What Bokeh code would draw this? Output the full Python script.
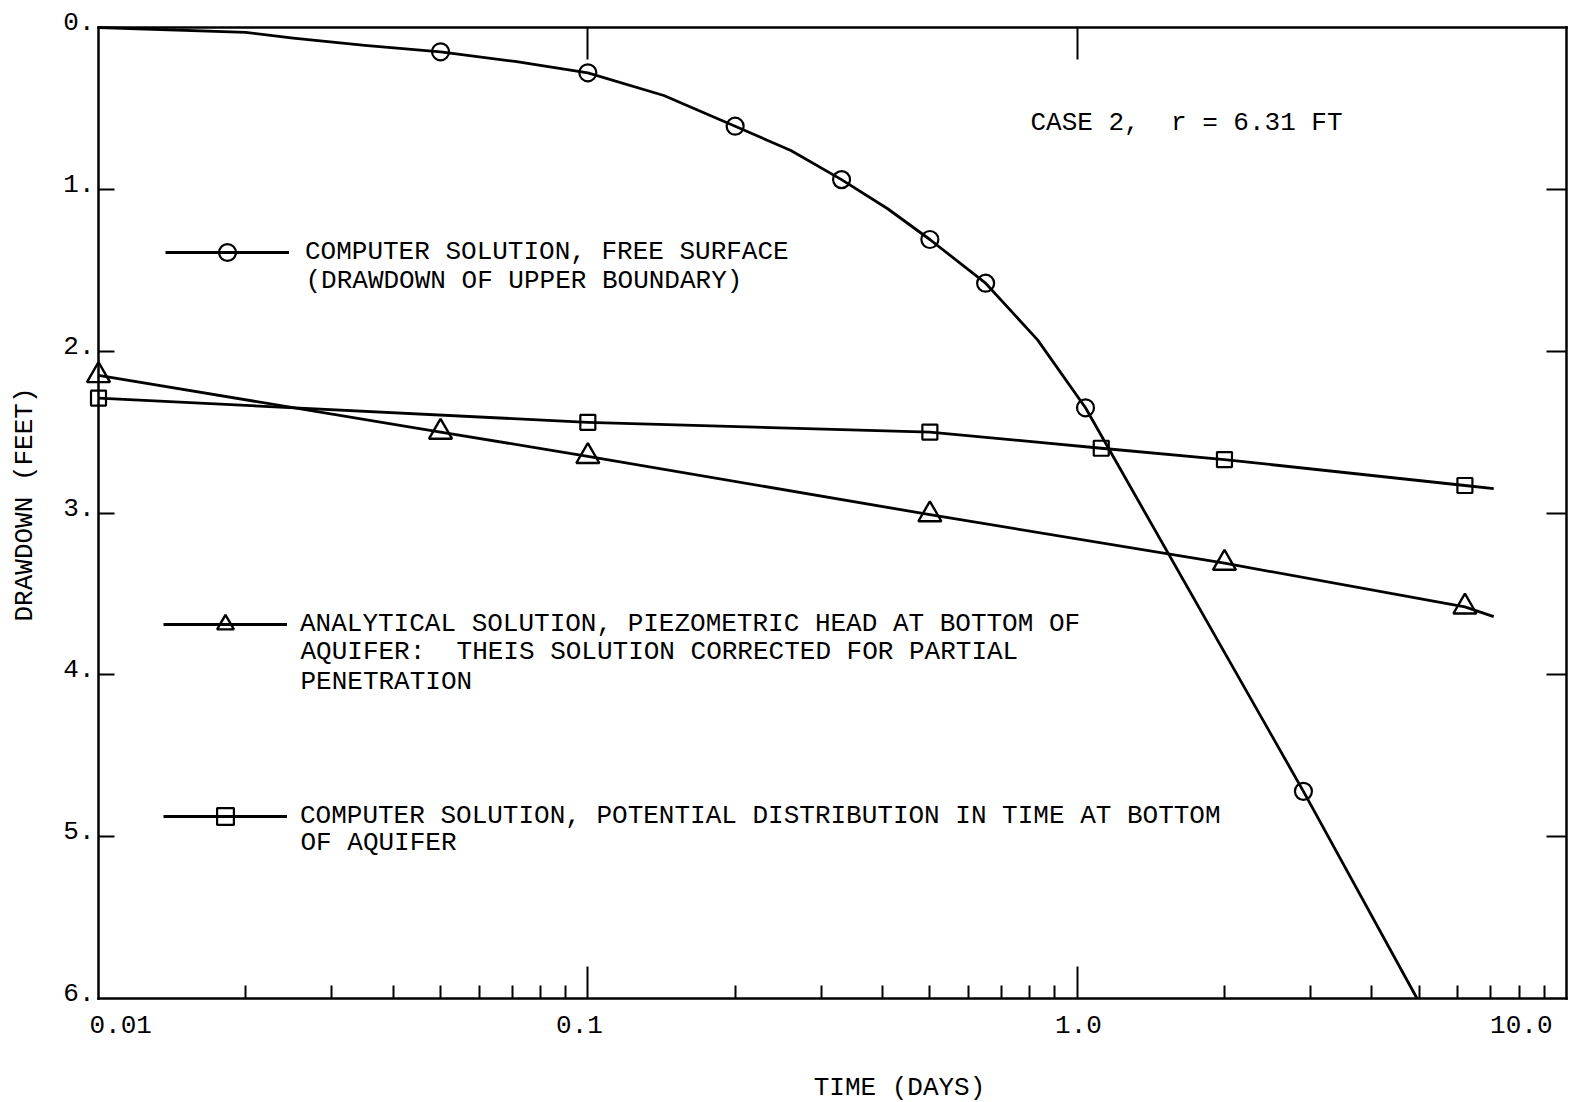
import math
from bokeh.plotting import figure
from bokeh.models import (FixedTicker, LogAxis, LinearAxis, Label, Legend, LegendItem)
from bokeh.embed import file_html
from bokeh.resources import INLINE

FONT = "Liberation Mono"
FS = "26px"
NB = "\u00a0"

# ---- data ----
# Computer solution, free surface (circles)
free_time = [0.05, 0.1, 0.2, 0.33, 0.5, 0.65, 1.04, 2.9]
free_drawdown = [0.15, 0.28, 0.61, 0.94, 1.31, 1.58, 2.35, 4.72]
# the drawn curve (includes its ends)
free_curve_time = [0.01, 0.02, 0.025, 0.035, 0.05, 0.071, 0.1, 0.143, 0.2, 0.26,
                   0.33, 0.41, 0.5, 0.65, 0.83, 1.04, 2.9, 4.95]
free_curve_drawdown = [0.0, 0.03, 0.065, 0.11, 0.15, 0.21, 0.28, 0.42, 0.61, 0.76,
                       0.94, 1.12, 1.31, 1.58, 1.93, 2.35, 4.72, 6.0]

# Analytical solution, piezometric head (triangles)
theis_time = [0.01, 0.05, 0.1, 0.5, 2.0, 6.2]
theis_drawdown = [2.15, 2.50, 2.65, 3.01, 3.31, 3.58]
theis_curve_time = [0.01, 0.05, 0.1, 0.5, 2.0, 6.2, 7.1]
theis_curve_drawdown = [2.15, 2.50, 2.65, 3.01, 3.31, 3.58, 3.64]

# Computer solution, potential at bottom (squares)
pot_time = [0.01, 0.1, 0.5, 1.12, 2.0, 6.2]
pot_drawdown = [2.29, 2.44, 2.50, 2.60, 2.67, 2.83]
pot_curve_time = [0.01, 0.1, 0.5, 1.12, 2.0, 6.2, 7.1]
pot_curve_drawdown = [2.29, 2.44, 2.50, 2.60, 2.67, 2.83, 2.85]

x_major = [0.01, 0.1, 1.0, 10.0]
x_major_labels = ["0.01", "0.1", "1.0", "10.0"]
x_minor = [d * m for d in [0.01, 0.1, 1.0] for m in range(2, 10)]
y_ticks = [0, 1, 2, 3, 4, 5, 6]
y_tick_labels = ["0.", "1.", "2.", "3.", "4.", "5.", "6."]

legend_first_lines = [
    "COMPUTER SOLUTION, FREE SURFACE",
    "ANALYTICAL SOLUTION, PIEZOMETRIC HEAD AT BOTTOM OF",
    "COMPUTER SOLUTION, POTENTIAL DISTRIBUTION IN TIME AT BOTTOM",
]
legend_more_lines = [
    ["(DRAWDOWN OF UPPER BOUNDARY)"],
    ["AQUIFER:" + NB + " THEIS SOLUTION CORRECTED FOR PARTIAL", "PENETRATION"],
    ["OF AQUIFER"],
]
case_text = "CASE 2," + NB + " r = 6.31 FT"
x_title = "TIME (DAYS)"
y_title = "DRAWDOWN (FEET)"

# ---- layout geometry (pixels on the canvas) ----
W, H = 1569, 1102
BOX_L, BOX_R, BOX_T, BOX_B = 98, 1566, 27, 998
X0, X1 = x_major[0], x_major[-1]
Y0, Y1 = y_ticks[0], y_ticks[-1]
DEC = (BOX_R - BOX_L) / math.log10(X1 / X0)      # pixels per decade
UNIT = (BOX_B - BOX_T) / (Y1 - Y0)                # pixels per foot


def X(px):
    return X0 * 10 ** ((px - BOX_L) / DEC)


def Y(py):
    return Y0 + (py - BOX_T) / UNIT


# the frame fills the whole canvas; the chart box is drawn by fixed axes
p = figure(width=W, height=H, x_axis_type="log",
           x_range=(X(0), X(W)), y_range=(Y(H), Y(0)),
           output_backend="svg", toolbar_location=None,
           min_border_left=0, min_border_right=0, min_border_top=0,
           min_border_bottom=0, background_fill_color="white",
           border_fill_color="white")
p.grid.visible = False
p.outline_line_color = None

AX_W = 2.5


def style_axis(ax, minor, tick_len, line=True):
    ax.ticker = FixedTicker(ticks=[], minor_ticks=minor)
    ax.major_tick_in = 0
    ax.major_tick_out = 0
    ax.minor_tick_in = tick_len
    ax.minor_tick_out = 0
    ax.minor_tick_line_width = 2
    ax.minor_tick_line_color = "black"
    ax.axis_line_width = AX_W
    ax.axis_line_cap = "square"
    ax.axis_line_color = "black" if line else None
    ax.major_label_standoff = 0


# bottom: short ticks at 2..9, long ticks at 0.1 and 1.0
xa = p.xaxis[0]
xa.fixed_location = Y1
xa.bounds = (X0, X1)
style_axis(xa, x_minor, 13)
xa2 = LogAxis(fixed_location=Y1, bounds=(X0, X1))
style_axis(xa2, x_major[1:3], 32, line=False)
p.add_layout(xa2, "below")

# top
top = LogAxis(fixed_location=Y0, bounds=(X0, X1))
style_axis(top, x_major[1:3], 32)
p.add_layout(top, "above")

# left
ya = p.yaxis[0]
ya.fixed_location = X0
ya.bounds = (Y0, Y1)
style_axis(ya, y_ticks[1:-1], 16)

# right
right = LinearAxis(fixed_location=X1, bounds=(Y0, Y1))
style_axis(right, y_ticks[1:-1], 20)
p.add_layout(right, "right")

# ---- data lines and markers ----
LW = 2.8
r_free_line = p.line(free_curve_time, free_curve_drawdown, line_color="black",
                     line_width=LW, line_join="round")
r_free_pts = p.scatter(free_time, free_drawdown, marker="circle", size=17,
                       fill_color=None, line_color="black", line_width=2.2)

r_theis_line = p.line(theis_curve_time, theis_curve_drawdown, line_color="black",
                      line_width=LW, line_join="round")
r_theis_pts = p.scatter(theis_time, theis_drawdown, marker="triangle", size=23,
                        fill_color=None, line_color="black", line_width=2.4)

r_pot_line = p.line(pot_curve_time, pot_curve_drawdown, line_color="black",
                    line_width=LW, line_join="round")
r_pot_pts = p.scatter(pot_time, pot_drawdown, marker="square", size=15,
                      fill_color=None, line_color="black", line_width=2.2)


def txt(x, y, s, align="left", baseline="middle", angle=0.0):
    p.add_layout(Label(x=x, y=y, x_units="data", y_units="data", text=s,
                       text_align=align, text_baseline=baseline, angle=angle,
                       text_font=FONT, text_font_size=FS, text_color="black"))


# x tick labels
xl_px = [89, 579, 1078, 1552]
xl_align = ["left", "center", "center", "right"]
for px, s, a in zip(xl_px, x_major_labels, xl_align):
    txt(X(px), Y(1024), s, align=a)

# y tick labels (sit slightly above their ticks)
for v, s in zip(y_ticks, y_tick_labels):
    txt(X(94), v - 6 / UNIT, s, align="right")

# axis titles and case note
txt(X(899), Y(1087), x_title, align="center")
txt(X(24), Y(504), y_title, align="center", angle=math.pi / 2)
txt(X(1030), Y(122), case_text)

# ---- legends: one per series ----
legend_specs = [
    ([r_free_line, r_free_pts], legend_first_lines[0], (165, H - 273), 16),
    ([r_theis_line, r_theis_pts], legend_first_lines[1], (163, H - 645), 13),
    ([r_pot_line, r_pot_pts], legend_first_lines[2], (163, H - 837), 13),
]
for rends, label, loc, standoff in legend_specs:
    lg = Legend(items=[LegendItem(label=label, renderers=rends)], location=loc,
                glyph_width=124, glyph_height=42, label_standoff=standoff,
                padding=0, margin=0, spacing=0,
                border_line_alpha=0, background_fill_alpha=0,
                label_text_font=FONT, label_text_font_size=FS,
                label_text_color="black")
    p.add_layout(lg, "center")

# continuation lines of the legend texts
more_px = [305, 300, 300]
more_py = [[280], [651, 681], [842]]
for px, pys, lines in zip(more_px, more_py, legend_more_lines):
    for py, s in zip(pys, lines):
        txt(X(px), Y(py), s)

open("out.html", "w").write(file_html(p, INLINE))
